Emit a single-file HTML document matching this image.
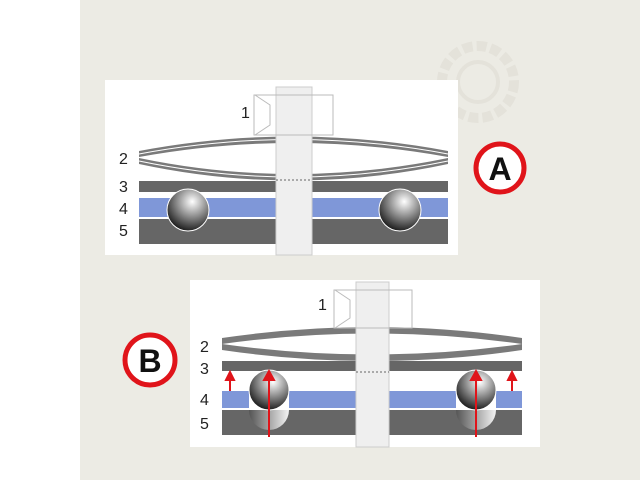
<!DOCTYPE html><html><head><style>body{margin:0}svg{display:block}</style></head><body>
<svg width="640" height="480" xmlns="http://www.w3.org/2000/svg" font-family="Liberation Sans, sans-serif">
<defs>
<radialGradient id="ball" cx="0.6" cy="0.3" r="0.75"><stop offset="0" stop-color="#fff"/><stop offset="0.5" stop-color="#888"/><stop offset="1" stop-color="#111"/></radialGradient>
<linearGradient id="sh" x1="0" y1="0" x2="1" y2="0"><stop offset="0" stop-color="#555"/><stop offset="1" stop-color="#f4f4f4"/></linearGradient>
</defs>
<rect width="640" height="480" fill="#ecebe4"/>
<rect width="80" height="480" fill="#fff"/>
<g fill="none" stroke="#e4e2da" stroke-width="4">
<circle cx="478" cy="82" r="36" stroke-dasharray="10,4" stroke-width="10"/><circle cx="478" cy="82" r="20"/>
</g>
<!-- Panel A -->
<rect x="105" y="80" width="353" height="175" fill="#fff"/>
<g>
<path d="M139,151 Q293,122 448,151 L448,157 Q293,129 139,157Z" fill="#7a7a7a"/>
<path d="M139,158 Q293,190 448,158 L448,164 Q293,197 139,164Z" fill="#7a7a7a"/>
<path d="M139,154 Q293,125 448,154 M139,161 Q293,193 448,161" stroke="#fff" stroke-width="1" fill="none"/>
<rect x="139" y="181" width="309" height="11" fill="#666"/>
<rect x="139" y="198" width="309" height="19" fill="#7f97d8"/>
<rect x="139" y="219" width="309" height="25" fill="#666"/>
<rect x="276" y="87" width="36" height="168" fill="#efefef" stroke="#ccc"/>
<line x1="276" y1="180" x2="312" y2="180" stroke="#666" stroke-dasharray="2,2"/>
<rect x="254" y="95" width="79" height="40" fill="none" stroke="#bbb"/>
<path d="M255,95 L270,105 L270,125 L255,135" stroke="#bbb" fill="none"/>
<circle cx="188" cy="210" r="21" fill="url(#ball)" stroke="#fff"/>
<circle cx="400" cy="210" r="21" fill="url(#ball)" stroke="#fff"/>
<g font-size="16" fill="#222"><text x="241" y="118">1</text><text x="119" y="164">2</text><text x="119" y="192">3</text><text x="119" y="214">4</text><text x="119" y="236">5</text></g>
</g>
<circle cx="500" cy="168" r="24" fill="#fff" stroke="#e0141a" stroke-width="5"/>
<text x="500" y="180" font-size="32" font-weight="bold" text-anchor="middle" fill="#111">A</text>
<!-- Panel B -->
<rect x="190" y="280" width="350" height="167" fill="#fff"/>
<path d="M222,338 Q372,316 522,338 L522,344 Q372,323 222,344Z" fill="#7a7a7a"/>
<path d="M222,344 Q372,365 522,344 L522,350 Q372,372 222,350Z" fill="#7a7a7a"/>
<rect x="222" y="361" width="300" height="10" fill="#666"/>
<rect x="222" y="391" width="300" height="17" fill="#7f97d8"/>
<rect x="222" y="410" width="300" height="25" fill="#666"/>
<rect x="356" y="282" width="33" height="165" fill="#efefef" stroke="#ccc"/>
<line x1="356" y1="372" x2="389" y2="372" stroke="#666" stroke-dasharray="2,2"/>
<rect x="334" y="290" width="78" height="38" fill="none" stroke="#bbb"/>
<path d="M335,290 L350,300 L350,318 L335,328" stroke="#bbb" fill="none"/>
<rect x="249" y="391" width="40" height="17" fill="#fff"/>
<rect x="456" y="391" width="40" height="17" fill="#fff"/>
<path d="M249,410 A20,20 0 0 0 289,410Z" fill="url(#sh)"/>
<path d="M456,410 A20,20 0 0 0 496,410Z" fill="url(#sh)"/>
<circle cx="269" cy="390" r="20" fill="url(#ball)" stroke="#fff"/>
<circle cx="476" cy="390" r="20" fill="url(#ball)" stroke="#fff"/>
<g stroke="#e0141a" stroke-width="2" fill="#e0141a">
<line x1="269" y1="437" x2="269" y2="378"/><path d="M264,380 L269,371 L274,380Z"/>
<line x1="476" y1="437" x2="476" y2="378"/><path d="M471,380 L476,371 L481,380Z"/>
<line x1="230" y1="391" x2="230" y2="378"/><path d="M226,380 L230,372 L234,380Z"/>
<line x1="512" y1="391" x2="512" y2="378"/><path d="M508,380 L512,372 L516,380Z"/>
</g>
<g font-size="16" fill="#222"><text x="318" y="310">1</text><text x="200" y="352">2</text><text x="200" y="374">3</text><text x="200" y="405">4</text><text x="200" y="429">5</text></g>
<circle cx="150" cy="360" r="25" fill="#fff" stroke="#e0141a" stroke-width="5"/>
<text x="150" y="372" font-size="32" font-weight="bold" text-anchor="middle" fill="#111">B</text>
</svg>
</body></html>
